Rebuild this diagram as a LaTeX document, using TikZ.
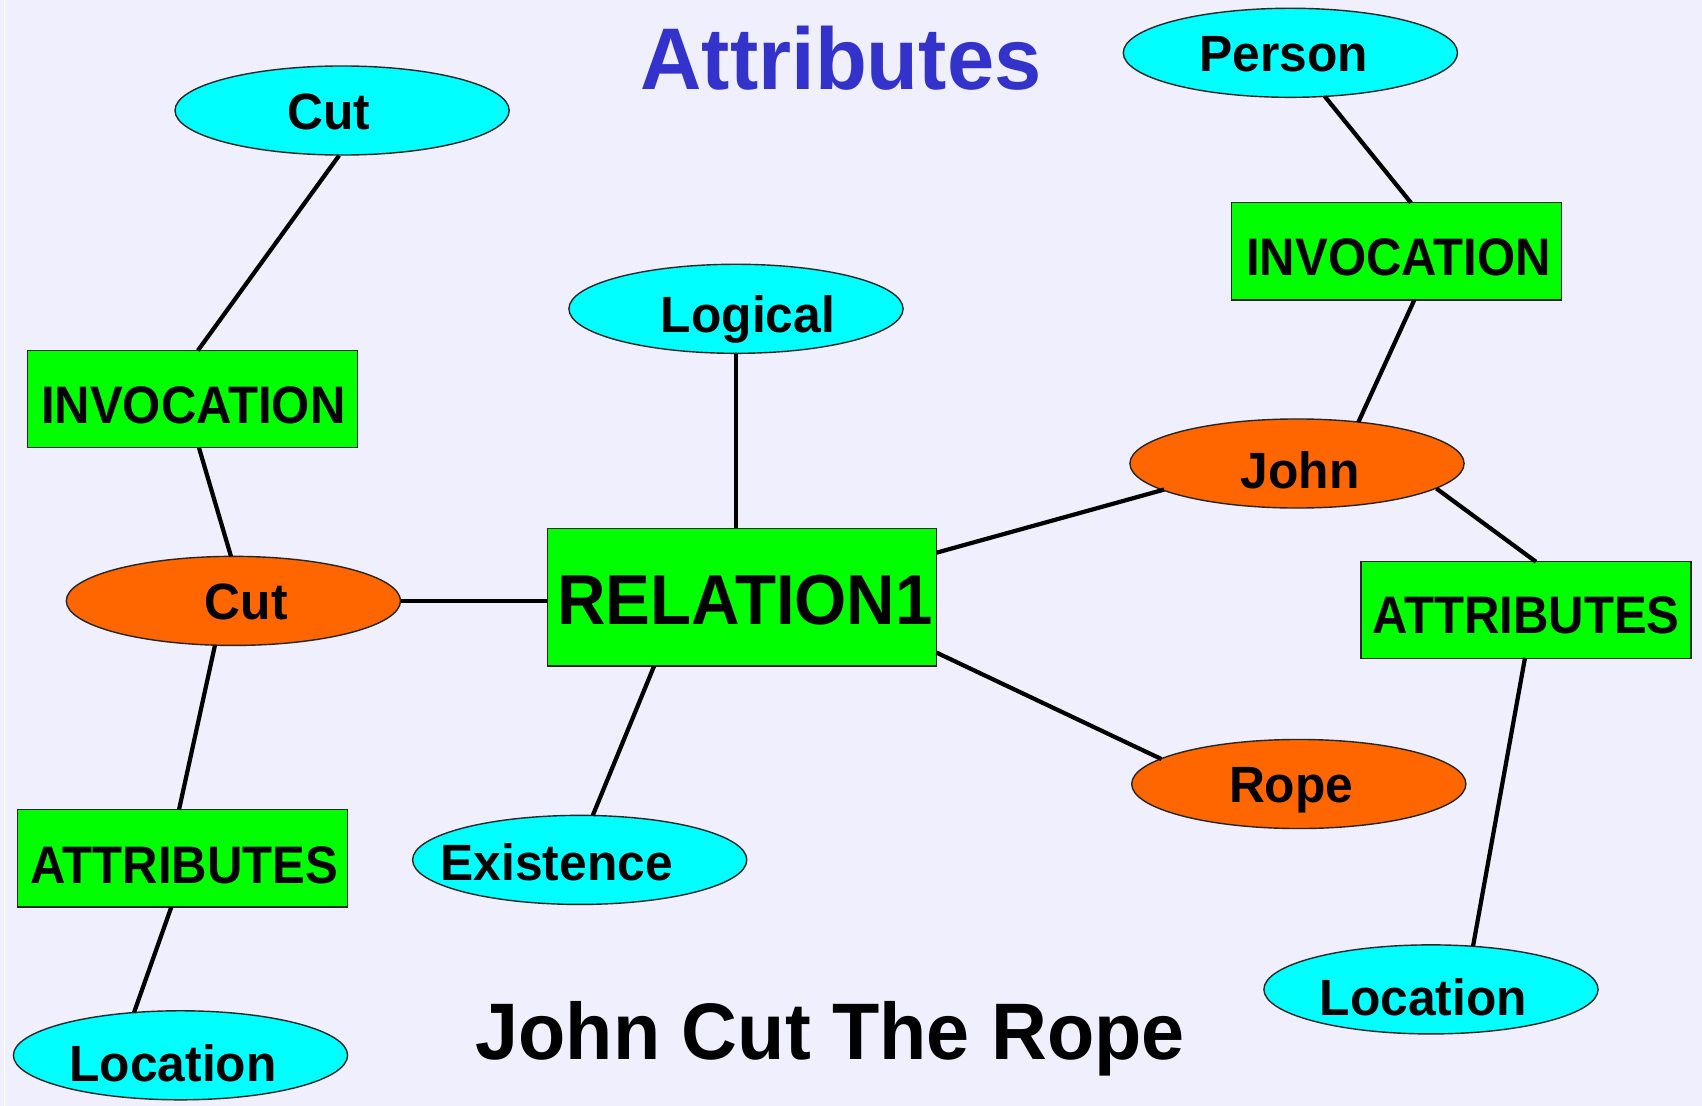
\documentclass[tikz,border=0pt]{standalone}
\usepackage{fontspec}
\setmainfont{Liberation Sans}
\newfontfamily\rectfont{Liberation Sans Bold}[FakeStretch=0.93]
\newfontfamily\relfont{Liberation Sans Bold}[FakeStretch=0.95]
\newfontfamily\ellfont{Liberation Sans Bold}[FakeStretch=0.975]
\newfontfamily\headfont{Liberation Sans Bold}[FakeStretch=0.97]
\newfontfamily\sentfont{Liberation Sans Bold}[FakeStretch=0.965]
\usetikzlibrary{shapes.geometric,calc}

\definecolor{bg}{RGB}{239,239,253}
\definecolor{conceptcyan}{RGB}{0,255,255}
\definecolor{instorange}{RGB}{255,102,0}
\definecolor{relgreen}{RGB}{0,255,0}
\definecolor{titleblue}{RGB}{51,51,204}

% label text nudged by (#1 right, #2 up) inside its node
\newcommand\nudged[3]{\raisebox{#2}{\kern#1\relax#3\kern-#1\relax}}

\tikzset{
  ell/.style={ellipse, draw=black!85, line width=0.4pt,
    minimum width=3.34cm, minimum height=0.89cm, inner sep=0pt,
    font=\ellfont\fontsize{14.5}{14.5}\selectfont,
    text height=10.4pt, text depth=0pt},
  concept/.style={ell, fill=conceptcyan},
  inst/.style={ell, fill=instorange},
  boxnode/.style={rectangle, draw=black!85, line width=0.4pt, fill=relgreen,
    minimum width=3.3cm, minimum height=0.97cm, inner sep=0pt,
    font=\rectfont\fontsize{15}{15}\selectfont,
    text height=10.74pt, text depth=0pt},
  relnode/.style={boxnode, minimum width=3.89cm, minimum height=1.377cm,
    font=\relfont\fontsize{20.1}{20.1}\selectfont, text height=14.4pt},
  link/.style={draw=black, line width=1.2pt},
}

\begin{document}
\begin{tikzpicture}[x=0.01cm, y=-0.01cm]
  \fill[bg] (0,0) rectangle (1702,1106);
  \fill[white] (3.5,0) rectangle (5,1106);
  \useasboundingbox (0,0) rectangle (1702,1106);

  % headings
  \node[font=\headfont\fontsize{24.9}{24.9}\selectfont, text=titleblue,
        inner sep=0pt, text height=17.8pt, text depth=0pt]
        (heading) at (841,58.7) {Attributes};
  \node[font=\sentfont\fontsize{22.8}{22.8}\selectfont, text=black,
        inner sep=0pt, text height=16.3pt, text depth=0pt]
        (sentence) at (830.3,1031.3) {John Cut The Rope};

  % concepts
  \node[concept] (cutTop)    at (342.1,110.5)  {\nudged{-0.13cm}{-0.01cm}{Cut}};
  \node[concept] (person)    at (1290.4,52.8)  {\nudged{-0.065cm}{0cm}{Person}};
  \node[concept] (logical)   at (736,308.8)    {\nudged{0.12cm}{-0.054cm}{Logical}};
  \node[concept] (existence) at (579.7,859.9)  {\nudged{-0.23cm}{-0.025cm}{Existence}};
  \node[concept] (locL)      at (180.5,1055.3) {\nudged{-0.075cm}{-0.08cm}{Location}};
  \node[concept] (locR)      at (1431,989.4)   {\nudged{-0.076cm}{-0.08cm}{Location}};

  % instances
  \node[inst] (john)   at (1297,463.5) {\nudged{0.03cm}{-0.07cm}{John}};
  \node[inst] (cutMid) at (233.4,600.9) {\nudged{0.13cm}{0cm}{Cut}};
  \node[inst] (rope)   at (1298.8,784)  {\nudged{-0.076cm}{0cm}{Rope}};

  % relation boxes
  \node[boxnode] (invL)  at (192.3,399)   {\nudged{0.01cm}{-0.06cm}{INVOCATION}};
  \node[boxnode] (invR)  at (1396.5,251.3) {\nudged{0.02cm}{-0.05cm}{INVOCATION}};
  \node[boxnode] (attrL) at (182.4,858.3) {\nudged{0.02cm}{-0.06cm}{ATTRIBUTES}};
  \node[boxnode] (attrR) at (1526,609.8)  {\nudged{0cm}{-0.05cm}{ATTRIBUTES}};
  \node[relnode] (relation) at (742,597.2) {\nudged{0.03cm}{-0.015cm}{RELATION1}};

  % connectors
  \draw[link] ($(cutTop.center)+(-3,45)$)   -- ($(invL.center)+(5.6,-48.5)$);
  \draw[link] ($(invL.center)+(6.6,48.5)$)  -- ($(cutMid.center)+(-2.4,-44.5)$);
  \draw[link] ($(cutMid.center)+(-18.4,44.2)$) -- ($(attrL.center)+(-3.4,-48.5)$);
  \draw[link] ($(attrL.center)+(-11,48.5)$) -- ($(locL.center)+(-46.5,-42.7)$);
  \draw[link] (cutMid.east) -- (cutMid.east -| relation.west);
  \draw[link] (logical.south) -- (logical.south |- relation.north);
  \draw[link] ($(relation.center)+(-87.9,68.8)$) -- ($(existence.center)+(13,-44.3)$);
  \draw[link] ($(relation.center)+(194.5,-44.5)$) -- ($(john.center)+(-132.9,26.1)$);
  \draw[link] ($(relation.center)+(194.5,55.4)$)  -- ($(rope.center)+(-137.3,-24.9)$);
  \draw[link] ($(person.center)+(34.3,43.5)$) -- ($(invR.center)+(14.5,-48.5)$);
  \draw[link] ($(invR.center)+(17.9,48.5)$)   -- ($(john.center)+(61.4,-41.4)$);
  \draw[link] ($(john.center)+(139.4,25)$)    -- ($(attrR.center)+(10,-48)$);
  \draw[link] ($(attrR.center)+(-1,48)$)      -- ($(locR.center)+(42,-43)$);
\end{tikzpicture}
\end{document}
